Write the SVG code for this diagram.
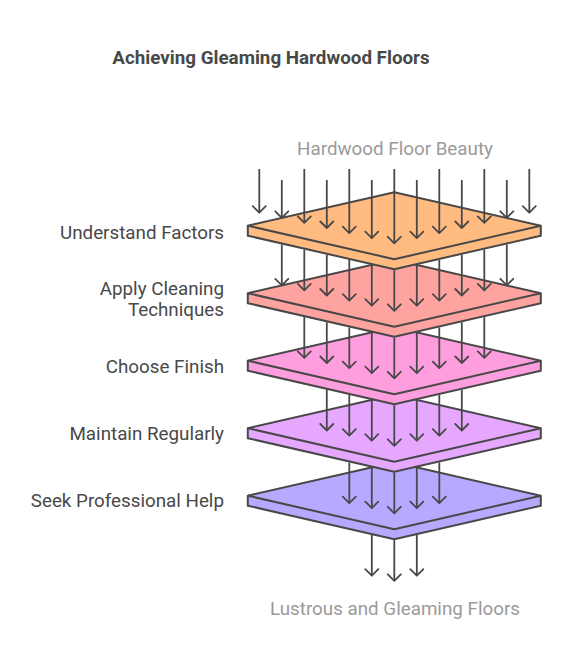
<svg xmlns="http://www.w3.org/2000/svg" width="565" height="666" viewBox="0 0 565 666">
<style>
  .t{font-family:Roboto,"Liberation Sans",sans-serif;}
  .title{font-size:18.8px;font-weight:bold;fill:#484848;}
  .lbl{font-size:18.8px;fill:#484848;text-anchor:end;}
  .sub{font-size:18.8px;fill:#9a9a9a;text-anchor:middle;}
  .plate path{stroke:#484848;stroke-width:2;stroke-linejoin:round;}
  .edge{fill:none;}
  .arr line{stroke:#484848;stroke-width:1.8;marker-end:url(#head);}
</style>
<defs>
  <marker id="head" markerUnits="userSpaceOnUse" viewBox="-8 -8 10 16" refX="0" refY="0" markerWidth="10" markerHeight="16" orient="auto">
    <path d="M-6.5,-6.5 L0,0 L-6.5,6.5" fill="none" stroke="#484848" stroke-width="1.8" stroke-linecap="round" stroke-linejoin="round"/>
  </marker>
</defs>
<rect width="565" height="666" fill="#ffffff"/>
<text class="t title" x="271" y="64" text-anchor="middle">Achieving Gleaming Hardwood Floors</text>
<text class="t sub" x="395" y="155">Hardwood Floor Beauty</text>
<text class="t sub" x="395" y="615">Lustrous and Gleaming Floors</text>

<g id="plate5" class="plate">
  <g transform="translate(0,270)">
    <path d="M247.8,225.7 L394.3,192.2 L540.8,225.7 L540.8,235.7 L394.3,269.2 L247.8,235.7 Z" fill="#B9A8FF"/>
    <path class="edge" d="M247.8,225.7 L394.3,259.2 L540.8,225.7"/>
  </g>
  <text class="t lbl" x="224" y="507">Seek Professional Help</text>
</g>
<g id="plate4" class="plate">
  <g transform="translate(0,202.5)">
    <path d="M247.8,225.7 L394.3,192.2 L540.8,225.7 L540.8,235.7 L394.3,269.2 L247.8,235.7 Z" fill="#E6A8FF"/>
    <path class="edge" d="M247.8,225.7 L394.3,259.2 L540.8,225.7"/>
  </g>
  <text class="t lbl" x="224" y="440">Maintain Regularly</text>
</g>
<g id="plate3" class="plate">
  <g transform="translate(0,135)">
    <path d="M247.8,225.7 L394.3,192.2 L540.8,225.7 L540.8,235.7 L394.3,269.2 L247.8,235.7 Z" fill="#FF9EDE"/>
    <path class="edge" d="M247.8,225.7 L394.3,259.2 L540.8,225.7"/>
  </g>
  <text class="t lbl" x="224" y="373">Choose Finish</text>
</g>
<g id="plate2" class="plate">
  <g transform="translate(0,67.5)">
    <path d="M247.8,225.7 L394.3,192.2 L540.8,225.7 L540.8,235.7 L394.3,269.2 L247.8,235.7 Z" fill="#FFA3A0"/>
    <path class="edge" d="M247.8,225.7 L394.3,259.2 L540.8,225.7"/>
  </g>
  <text class="t lbl" x="224" y="295">Apply Cleaning</text>
  <text class="t lbl" x="224" y="316">Techniques</text>
</g>
<g id="plate1" class="plate">
  <path d="M247.8,225.7 L394.3,192.2 L540.8,225.7 L540.8,235.7 L394.3,269.2 L247.8,235.7 Z" fill="#FFBB80"/>
  <path class="edge" d="M247.8,225.7 L394.3,259.2 L540.8,225.7"/>
  <text class="t lbl" x="224" y="239">Understand Factors</text>
</g>

<g id="connectors" class="arr">
  <line x1="259.3" y1="169" x2="259.3" y2="212.7"/>
  <line x1="281.8" y1="180" x2="281.8" y2="217.8"/>
  <line x1="304.3" y1="169" x2="304.3" y2="222.9"/>
  <line x1="326.8" y1="180" x2="326.8" y2="228"/>
  <line x1="349.3" y1="169" x2="349.3" y2="233.1"/>
  <line x1="371.8" y1="180" x2="371.8" y2="238.2"/>
  <line x1="394.3" y1="169" x2="394.3" y2="243.3"/>
  <line x1="416.8" y1="180" x2="416.8" y2="238.2"/>
  <line x1="439.3" y1="169" x2="439.3" y2="233.1"/>
  <line x1="461.8" y1="180" x2="461.8" y2="228"/>
  <line x1="484.3" y1="169" x2="484.3" y2="222.9"/>
  <line x1="506.8" y1="180" x2="506.8" y2="217.8"/>
  <line x1="529.3" y1="169" x2="529.3" y2="212.7"/>

  <line x1="281.8" y1="244.4" x2="281.8" y2="285.3"/>
  <line x1="304.3" y1="249.6" x2="304.3" y2="290.4"/>
  <line x1="326.8" y1="254.7" x2="326.8" y2="295.5"/>
  <line x1="349.3" y1="259.9" x2="349.3" y2="300.6"/>
  <line x1="371.8" y1="265" x2="371.8" y2="305.7"/>
  <line x1="394.3" y1="270.2" x2="394.3" y2="310.8"/>
  <line x1="416.8" y1="265" x2="416.8" y2="305.7"/>
  <line x1="439.3" y1="259.9" x2="439.3" y2="300.6"/>
  <line x1="461.8" y1="254.7" x2="461.8" y2="295.5"/>
  <line x1="484.3" y1="249.6" x2="484.3" y2="290.4"/>
  <line x1="506.8" y1="244.4" x2="506.8" y2="285.3"/>

  <line x1="304.3" y1="317.1" x2="304.3" y2="357.9"/>
  <line x1="326.8" y1="322.2" x2="326.8" y2="363"/>
  <line x1="349.3" y1="327.4" x2="349.3" y2="368.1"/>
  <line x1="371.8" y1="332.5" x2="371.8" y2="373.2"/>
  <line x1="394.3" y1="337.7" x2="394.3" y2="378.3"/>
  <line x1="416.8" y1="332.5" x2="416.8" y2="373.2"/>
  <line x1="439.3" y1="327.4" x2="439.3" y2="368.1"/>
  <line x1="461.8" y1="322.2" x2="461.8" y2="363"/>
  <line x1="484.3" y1="317.1" x2="484.3" y2="357.9"/>

  <line x1="326.8" y1="389.7" x2="326.8" y2="430.5"/>
  <line x1="349.3" y1="394.9" x2="349.3" y2="435.6"/>
  <line x1="371.8" y1="400" x2="371.8" y2="440.7"/>
  <line x1="394.3" y1="405.2" x2="394.3" y2="445.8"/>
  <line x1="416.8" y1="400" x2="416.8" y2="440.7"/>
  <line x1="439.3" y1="394.9" x2="439.3" y2="435.6"/>
  <line x1="461.8" y1="389.7" x2="461.8" y2="430.5"/>

  <line x1="349.3" y1="462.4" x2="349.3" y2="503.1"/>
  <line x1="371.8" y1="467.5" x2="371.8" y2="508.2"/>
  <line x1="394.3" y1="472.7" x2="394.3" y2="513.3"/>
  <line x1="416.8" y1="467.5" x2="416.8" y2="508.2"/>
  <line x1="439.3" y1="462.4" x2="439.3" y2="503.1"/>

  <line x1="371.8" y1="535" x2="371.8" y2="575.7"/>
  <line x1="394.3" y1="540.2" x2="394.3" y2="580.8"/>
  <line x1="416.8" y1="535" x2="416.8" y2="575.7"/>
</g>
</svg>
